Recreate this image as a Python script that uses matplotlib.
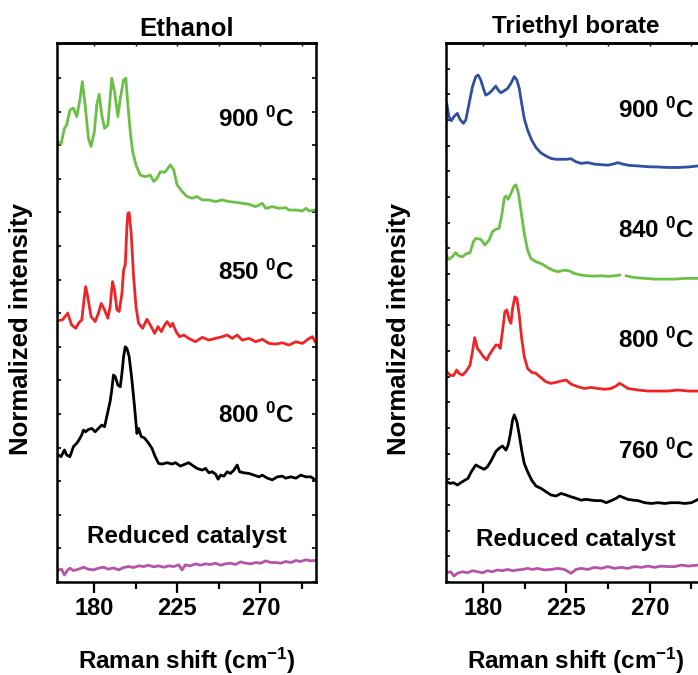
import numpy as np
import matplotlib
matplotlib.use("Agg")
import matplotlib.pyplot as plt
from matplotlib.ticker import MultipleLocator, NullFormatter

plt.rcParams['font.family'] = ['Liberation Sans', 'DejaVu Sans']
plt.rcParams['font.weight'] = 'bold'
plt.rcParams['axes.labelweight'] = 'bold'
plt.rcParams['axes.titleweight'] = 'bold'
plt.rcParams['mathtext.fontset'] = 'custom'
plt.rcParams['mathtext.rm'] = 'Liberation Sans:bold'
plt.rcParams['mathtext.bf'] = 'Liberation Sans:bold'
plt.rcParams['mathtext.it'] = 'Liberation Sans:bold'

# --- DATA: Ethanol panel ---
eth_x_900 = [160.7, 162.2, 164.0, 165.2, 167.0, 168.9, 170.7, 172.5, 173.7, 175.2,
             177.0, 178.4, 180.2, 181.5, 182.8, 184.2, 185.7, 187.5, 188.7, 189.6,
             191.1, 192.9, 194.2, 196.0, 197.2, 198.3, 199.6, 200.9, 202.7, 205.0,
             207.7, 210.4, 212.2, 214.0, 215.9, 218.2, 221.3, 223.1, 224.9, 227.6,
             230.3, 233.0, 235.7, 238.5, 242.1, 245.7, 249.3, 252.9, 256.5, 260.1,
             263.8, 267.4, 271.0, 272.8, 276.4, 280.0, 283.6, 285.4, 289.1, 292.7,
             294.5, 296.3, 299.5]
eth_y_900 = [13.10, 13.03, 13.50, 13.60, 14.05, 14.10, 13.85, 14.39, 14.89, 14.20,
             13.20, 12.96, 13.40, 14.20, 14.51, 13.90, 13.50, 13.60, 14.39, 14.99,
             14.59, 13.85, 14.39, 14.94, 14.99, 14.20, 13.40, 12.81, 12.41, 12.11,
             12.06, 12.11, 11.92, 12.01, 12.21, 12.19, 12.41, 12.26, 11.82, 11.62,
             11.47, 11.42, 11.47, 11.37, 11.37, 11.32, 11.37, 11.32, 11.30, 11.27,
             11.24, 11.17, 11.27, 11.12, 11.17, 11.12, 11.14, 11.07, 11.07, 11.04,
             11.12, 11.04, 11.07]

eth_x_850 = [160.7, 162.9, 165.8, 167.9, 170.1, 171.9, 173.4, 174.8, 175.5, 176.6,
             178.4, 180.6, 182.4, 183.9, 185.7, 187.5, 188.7, 190.0, 191.1, 192.4,
             193.6, 195.1, 196.0, 196.9, 197.8, 198.3, 199.0, 200.1, 201.4, 202.7,
             204.1, 206.3, 208.6, 210.4, 212.8, 214.6, 216.4, 218.2, 219.5, 221.3,
             222.5, 224.4, 226.2, 228.5, 231.2, 234.8, 238.5, 242.1, 245.7, 249.3,
             252.0, 254.7, 257.4, 260.1, 263.8, 267.4, 271.0, 274.6, 278.2, 281.8,
             285.4, 289.1, 292.7, 296.3, 298.1, 299.5]
eth_y_850 = [7.78, 7.80, 8.00, 7.65, 7.55, 7.72, 7.80, 8.49, 8.79, 8.49,
             7.90, 7.75, 8.00, 8.29, 8.10, 7.85, 8.19, 8.94, 8.69, 8.10,
             8.05, 8.59, 9.29, 9.43, 10.58, 10.97, 10.99, 10.38, 9.09, 8.19,
             7.70, 7.55, 7.82, 7.65, 7.40, 7.60, 7.45, 7.65, 7.75, 7.60,
             7.70, 7.45, 7.30, 7.35, 7.25, 7.15, 7.28, 7.20, 7.25, 7.30,
             7.35, 7.25, 7.35, 7.20, 7.25, 7.15, 7.22, 7.10, 7.08, 7.12,
             7.05, 7.15, 7.10, 7.25, 7.30, 7.15]

eth_x_800 = [160.7, 162.2, 164.0, 165.2, 167.0, 168.9, 170.7, 171.9, 173.4, 174.3,
             175.5, 177.0, 178.8, 180.6, 182.4, 184.2, 185.7, 186.9, 188.7, 189.6,
             190.5, 191.5, 192.9, 194.2, 195.1, 196.0, 196.9, 197.8, 199.0, 200.5,
             201.9, 203.2, 204.1, 205.5, 207.4, 209.5, 211.3, 213.1, 214.9, 216.8,
             219.5, 222.2, 224.0, 226.7, 229.4, 231.2, 233.0, 235.7, 238.5, 240.3,
             242.1, 243.9, 245.7, 247.1, 248.4, 250.2, 252.0, 253.8, 255.6, 257.4,
             258.7, 261.0, 263.8, 266.5, 269.2, 271.0, 273.7, 276.4, 279.1, 281.8,
             283.6, 286.4, 289.1, 291.8, 294.5, 297.2, 299.5]
eth_y_800 = [3.78, 3.73, 3.93, 3.78, 3.73, 4.03, 4.13, 4.23, 4.38, 4.52,
             4.47, 4.54, 4.57, 4.47, 4.57, 4.67, 4.62, 4.92, 5.37, 5.71,
             6.16, 6.11, 5.86, 5.81, 6.21, 6.71, 7.00, 6.95, 6.71, 6.01,
             5.22, 4.42, 4.57, 4.33, 4.28, 4.13, 3.98, 3.73, 3.53, 3.51,
             3.55, 3.51, 3.55, 3.45, 3.51, 3.55, 3.48, 3.38, 3.33, 3.38,
             3.25, 3.28, 3.21, 3.06, 3.18, 3.15, 3.28, 3.23, 3.33, 3.48,
             3.28, 3.25, 3.23, 3.18, 3.13, 3.18, 3.09, 3.04, 3.13, 3.15,
             3.09, 3.13, 3.09, 3.18, 3.13, 3.13, 3.04]

eth_x_red = [160.7, 162.5, 164.0, 165.8, 167.0, 168.9, 171.6, 174.3, 177.0, 179.7,
             182.4, 185.1, 187.8, 190.5, 193.3, 196.0, 198.7, 201.4, 204.1, 206.8,
             209.5, 212.2, 214.9, 217.7, 220.4, 223.1, 225.8, 227.6, 229.4, 232.1,
             234.8, 237.5, 240.3, 243.0, 245.7, 248.4, 251.1, 253.8, 256.5, 259.2,
             261.9, 264.7, 267.4, 270.1, 272.8, 275.5, 278.2, 280.9, 283.6, 286.4,
             289.1, 291.8, 294.5, 297.2, 299.5]
eth_y_red = [0.36, 0.38, 0.21, 0.36, 0.41, 0.34, 0.38, 0.44, 0.38, 0.36,
             0.41, 0.44, 0.38, 0.42, 0.36, 0.43, 0.46, 0.43, 0.48, 0.46,
             0.50, 0.45, 0.48, 0.44, 0.48, 0.46, 0.51, 0.36, 0.51, 0.48,
             0.54, 0.50, 0.54, 0.52, 0.56, 0.50, 0.54, 0.56, 0.52, 0.60,
             0.56, 0.54, 0.58, 0.56, 0.63, 0.58, 0.58, 0.56, 0.61, 0.58,
             0.64, 0.61, 0.66, 0.63, 0.64]

# --- DATA: Triethyl borate panel ---
teb_x_900 = [160.4, 161.6, 162.9, 164.3, 166.1, 167.6, 169.4, 170.7, 172.5, 174.3,
             176.1, 177.4, 178.8, 180.2, 181.5, 183.3, 185.1, 186.9, 188.2, 189.6,
             191.5, 193.3, 195.1, 196.9, 198.3, 199.6, 200.9, 202.3, 204.1, 206.3,
             208.6, 211.3, 214.0, 216.8, 219.5, 222.2, 224.9, 227.6, 230.3, 233.0,
             236.6, 240.3, 243.9, 247.5, 250.2, 252.9, 255.6, 259.2, 263.8, 269.2,
             274.6, 280.0, 285.5, 290.9, 296.3, 300.0]
teb_y_900 = [18.65, 18.13, 17.97, 18.13, 18.26, 18.02, 17.87, 18.00, 18.65, 19.30,
             19.69, 19.75, 19.56, 19.23, 18.97, 19.04, 19.17, 19.32, 19.17, 19.06,
             19.14, 19.23, 19.43, 19.69, 19.56, 19.23, 18.65, 18.06, 17.61, 17.22,
             16.93, 16.72, 16.60, 16.50, 16.47, 16.47, 16.47, 16.49, 16.37, 16.31,
             16.34, 16.28, 16.26, 16.24, 16.28, 16.34, 16.28, 16.23, 16.21, 16.18,
             16.17, 16.15, 16.15, 16.17, 16.21, 16.25]

teb_x_840 = [160.4, 161.6, 163.4, 165.2, 167.0, 168.9, 170.7, 173.0, 174.8, 176.1,
             178.8, 181.0, 183.3, 185.1, 186.9, 188.7, 190.0, 191.5, 192.4, 193.6,
             195.1, 196.9, 197.8, 199.0, 200.5, 202.3, 204.1, 205.9, 208.6, 212.2,
             214.9, 217.7, 220.4, 224.0, 226.7, 229.4, 233.0, 236.6, 240.3, 243.9,
             247.5, 251.1, 253.8, np.nan, 257.4, 261.9, 267.4, 272.8, 278.2, 283.6,
             289.1, 296.3, 300.0]
teb_y_840 = [12.70, 12.57, 12.67, 12.83, 12.70, 12.67, 12.78, 12.83, 13.26, 13.39,
             13.35, 13.13, 13.32, 13.65, 13.74, 13.78, 14.23, 14.95, 15.04, 14.91,
             15.14, 15.43, 15.47, 15.20, 14.49, 13.58, 12.93, 12.61, 12.48, 12.38,
             12.25, 12.15, 12.09, 12.15, 12.12, 12.02, 11.96, 11.93, 11.92, 11.93,
             11.91, 11.93, 11.96, np.nan, 11.93, 11.86, 11.83, 11.80, 11.80, 11.80,
             11.83, 11.83, 11.83]

teb_x_800 = [160.4, 162.2, 164.0, 165.8, 167.0, 168.9, 170.7, 173.0, 174.3, 175.5,
             177.0, 178.4, 180.2, 182.1, 183.3, 185.1, 186.9, 188.2, 189.3, 190.5,
             191.8, 192.9, 194.2, 195.1, 196.0, 197.2, 198.3, 199.6, 200.9, 202.3,
             204.1, 206.3, 208.6, 211.3, 214.0, 216.8, 219.5, 222.2, 224.9, 227.6,
             231.2, 234.8, 238.5, 242.1, 245.7, 249.3, 252.0, 253.8, 255.6, 258.3,
             263.8, 269.2, 274.6, 280.0, 285.5, 290.9, 296.3, 300.0]
teb_y_800 = [8.19, 8.06, 8.04, 8.26, 8.13, 8.06, 8.19, 8.45, 8.97, 9.52,
             9.10, 8.97, 8.78, 8.65, 8.84, 9.04, 9.23, 9.23, 9.10, 9.75,
             10.53, 10.60, 10.21, 10.08, 10.66, 11.11, 11.05, 10.40, 9.49, 8.78,
             8.32, 8.17, 8.13, 7.96, 7.80, 7.74, 7.78, 7.83, 7.87, 7.71,
             7.61, 7.54, 7.58, 7.54, 7.51, 7.54, 7.64, 7.74, 7.67, 7.54,
             7.48, 7.44, 7.44, 7.44, 7.48, 7.44, 7.44, 7.44]

teb_x_760 = [160.4, 162.2, 164.0, 166.1, 168.9, 171.9, 173.7, 176.1, 178.4, 180.6,
             182.4, 184.6, 186.9, 188.7, 190.5, 192.4, 193.6, 194.7, 196.0, 196.9,
             198.3, 199.6, 200.9, 202.3, 204.1, 206.3, 208.6, 211.3, 214.0, 216.8,
             219.5, 222.2, 224.9, 227.6, 230.3, 233.0, 235.7, 238.5, 241.2, 243.9,
             246.6, 249.3, 252.0, 253.8, 255.6, 258.3, 261.0, 263.8, 267.4, 271.0,
             274.6, 278.2, 281.8, 285.5, 289.1, 292.7, 296.3, 300.0]
teb_y_760 = [3.91, 3.84, 3.87, 3.78, 3.91, 4.04, 4.30, 4.56, 4.47, 4.39,
             4.49, 4.75, 5.08, 5.21, 5.30, 5.14, 5.34, 5.73, 6.31, 6.51,
             6.25, 5.73, 5.14, 4.62, 4.30, 3.97, 3.74, 3.65, 3.52, 3.39,
             3.35, 3.45, 3.39, 3.32, 3.26, 3.19, 3.22, 3.19, 3.17, 3.17,
             3.09, 3.17, 3.26, 3.35, 3.30, 3.22, 3.19, 3.17, 3.09, 3.06,
             3.09, 3.06, 3.09, 3.09, 3.06, 3.09, 3.22, 3.30]

teb_x_red = [160.4, 162.5, 164.3, 166.1, 168.9, 171.6, 174.3, 177.0, 179.7, 182.4,
             185.1, 187.8, 190.5, 193.3, 196.0, 198.7, 201.4, 204.1, 206.8, 209.5,
             213.1, 216.8, 220.4, 224.0, 227.6, 230.3, 233.0, 236.6, 240.3, 243.9,
             247.5, 251.1, 254.7, 258.3, 261.9, 265.6, 269.2, 272.8, 276.4, 280.0,
             283.6, 287.3, 290.9, 296.3, 300.0]
teb_y_red = [0.36, 0.40, 0.23, 0.34, 0.40, 0.36, 0.44, 0.40, 0.36, 0.44,
             0.40, 0.47, 0.44, 0.49, 0.44, 0.47, 0.49, 0.53, 0.49, 0.53,
             0.47, 0.49, 0.53, 0.49, 0.34, 0.49, 0.53, 0.49, 0.57, 0.53,
             0.60, 0.53, 0.57, 0.53, 0.60, 0.57, 0.62, 0.57, 0.62, 0.60,
             0.60, 0.66, 0.62, 0.66, 0.66]

GREEN = '#6cbf47'
RED = '#ee2426'
BLUE = '#2f4fa2'
PINK = '#b554a9'
LW = 2.0

fig = plt.figure(figsize=(6.98, 6.75), dpi=100)
ax1 = fig.add_axes([57 / 698, 93 / 675, 259 / 698, 539 / 675])
ax2 = fig.add_axes([446 / 698, 93 / 675, 259 / 698, 539 / 675])

# Ethanol
ax1.plot(eth_x_900, eth_y_900, color=GREEN, lw=LW)
ax1.plot(eth_x_850, eth_y_850, color=RED, lw=LW)
ax1.plot(eth_x_800, eth_y_800, color='black', lw=LW)
ax1.plot(eth_x_red, eth_y_red, color=PINK, lw=LW)
ax1.set_ylim(0, 16.04)
ax1.set_title('Ethanol', fontsize=18.5, pad=5)
ax1.text(288.5, 13.55, r'900 $^{0}$C', fontsize=17.5, ha='right', va='baseline')
ax1.text(288.5, 8.99, r'850 $^{0}$C', fontsize=17.5, ha='right', va='baseline')
ax1.text(288.5, 4.72, r'800 $^{0}$C', fontsize=17.5, ha='right', va='baseline')
ax1.text(230.2, 1.15, 'Reduced catalyst', fontsize=17.5, ha='center', va='baseline')

# Triethyl borate
ax2.plot(teb_x_900, teb_y_900, color=BLUE, lw=LW)
ax2.plot(teb_x_840, teb_y_840, color=GREEN, lw=LW)
ax2.plot(teb_x_800, teb_y_800, color=RED, lw=LW)
ax2.plot(teb_x_760, teb_y_760, color='black', lw=LW)
ax2.plot(teb_x_red, teb_y_red, color=PINK, lw=LW)
ax2.set_ylim(0, 21)
ax2.set_title('Triethyl borate', fontsize=17.5, pad=7)
ax2.text(294.5, 18.10, r'900 $^{0}$C', fontsize=17.5, ha='right', va='baseline')
ax2.text(294.5, 13.39, r'840 $^{0}$C', fontsize=17.5, ha='right', va='baseline')
ax2.text(294.5, 9.13, r'800 $^{0}$C', fontsize=17.5, ha='right', va='baseline')
ax2.text(294.5, 4.78, r'760 $^{0}$C', fontsize=17.5, ha='right', va='baseline')
ax2.text(230.2, 1.41, 'Reduced catalyst', fontsize=17.5, ha='center', va='baseline')

for ax, ylab_x in [(ax1, -0.139), (ax2, -0.181)]:
    ax.set_xlim(160, 300)
    ax.xaxis.set_major_locator(MultipleLocator(45))
    ax.xaxis.set_minor_locator(MultipleLocator(22.5))
    ax.yaxis.set_major_locator(MultipleLocator(1))
    ax.yaxis.set_major_formatter(NullFormatter())
    for s in ax.spines.values():
        s.set_linewidth(1.8)
    ax.tick_params(axis='x', which='major', direction='out', length=8, width=1.6,
                   top=False, labelsize=17, pad=3)
    ax.tick_params(axis='x', which='minor', direction='out', length=5, width=1.6, top=False)
    ax.tick_params(axis='y', which='major', direction='in', length=3, width=1.2,
                   left=True, right=True, labelleft=False)
    sec = ax.secondary_xaxis('top')
    sec.xaxis.set_major_locator(MultipleLocator(22.5))
    sec.tick_params(direction='in', length=2, width=1.0, labeltop=False)
    sec.spines['top'].set_linewidth(1.8)
    ax.set_xlabel(r'Raman shift (cm$^{-1}$)', fontsize=17.5, va='center')
    ax.xaxis.set_label_coords(0.5, -0.1466)
    ax.set_ylabel('Normalized intensity', fontsize=18.5, va='center')
    ax.yaxis.set_label_coords(ylab_x, 0.469)

fig.savefig('out.png', dpi=100)
